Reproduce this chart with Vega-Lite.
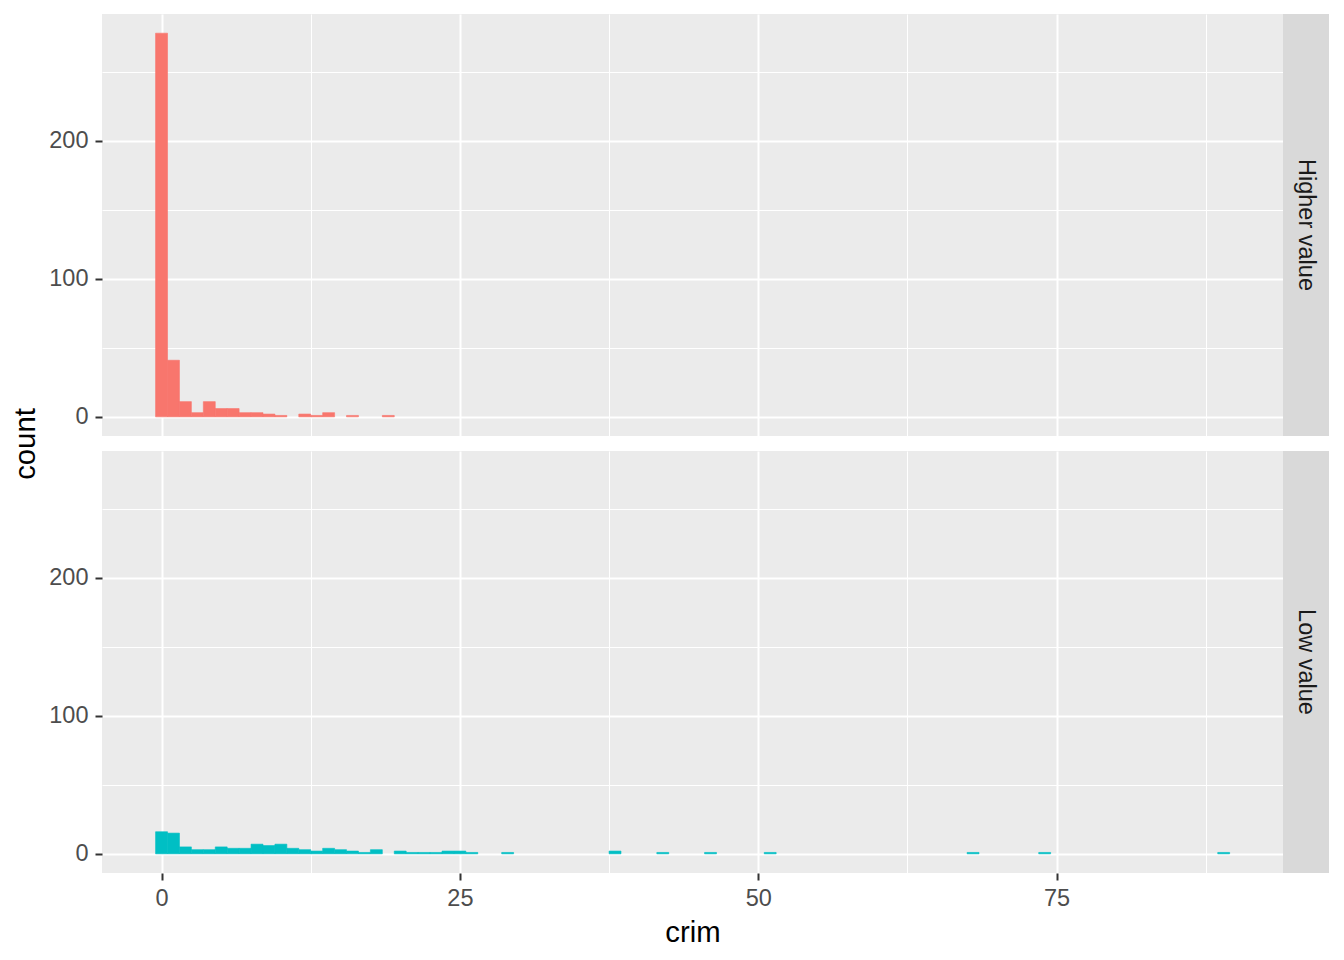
{
  "$schema": "https://vega.github.io/schema/vega-lite/v6.json",
  "background": "white",
  "padding": {"left": 11, "top": 14, "right": 12, "bottom": 10},
  "datasets": {
    "hist": [
      {"value": "Higher value", "bin_start": -0.5, "bin_end": 0.5, "count": 278},
      {"value": "Higher value", "bin_start": 0.5, "bin_end": 1.5, "count": 41},
      {"value": "Higher value", "bin_start": 1.5, "bin_end": 2.5, "count": 11},
      {"value": "Higher value", "bin_start": 2.5, "bin_end": 3.5, "count": 3},
      {"value": "Higher value", "bin_start": 3.5, "bin_end": 4.5, "count": 11},
      {"value": "Higher value", "bin_start": 4.5, "bin_end": 5.5, "count": 6},
      {"value": "Higher value", "bin_start": 5.5, "bin_end": 6.5, "count": 6},
      {"value": "Higher value", "bin_start": 6.5, "bin_end": 7.5, "count": 3},
      {"value": "Higher value", "bin_start": 7.5, "bin_end": 8.5, "count": 3},
      {"value": "Higher value", "bin_start": 8.5, "bin_end": 9.5, "count": 2},
      {"value": "Higher value", "bin_start": 9.5, "bin_end": 10.5, "count": 1},
      {"value": "Higher value", "bin_start": 11.5, "bin_end": 12.5, "count": 2},
      {"value": "Higher value", "bin_start": 12.5, "bin_end": 13.5, "count": 1},
      {"value": "Higher value", "bin_start": 13.5, "bin_end": 14.5, "count": 3},
      {"value": "Higher value", "bin_start": 15.5, "bin_end": 16.5, "count": 1},
      {"value": "Higher value", "bin_start": 18.5, "bin_end": 19.5, "count": 1},
      {"value": "Low value", "bin_start": -0.5, "bin_end": 0.5, "count": 16},
      {"value": "Low value", "bin_start": 0.5, "bin_end": 1.5, "count": 15},
      {"value": "Low value", "bin_start": 1.5, "bin_end": 2.5, "count": 5},
      {"value": "Low value", "bin_start": 2.5, "bin_end": 3.5, "count": 3},
      {"value": "Low value", "bin_start": 3.5, "bin_end": 4.5, "count": 3},
      {"value": "Low value", "bin_start": 4.5, "bin_end": 5.5, "count": 5},
      {"value": "Low value", "bin_start": 5.5, "bin_end": 6.5, "count": 4},
      {"value": "Low value", "bin_start": 6.5, "bin_end": 7.5, "count": 4},
      {"value": "Low value", "bin_start": 7.5, "bin_end": 8.5, "count": 7},
      {"value": "Low value", "bin_start": 8.5, "bin_end": 9.5, "count": 6},
      {"value": "Low value", "bin_start": 9.5, "bin_end": 10.5, "count": 7},
      {"value": "Low value", "bin_start": 10.5, "bin_end": 11.5, "count": 4},
      {"value": "Low value", "bin_start": 11.5, "bin_end": 12.5, "count": 3},
      {"value": "Low value", "bin_start": 12.5, "bin_end": 13.5, "count": 2},
      {"value": "Low value", "bin_start": 13.5, "bin_end": 14.5, "count": 4},
      {"value": "Low value", "bin_start": 14.5, "bin_end": 15.5, "count": 3},
      {"value": "Low value", "bin_start": 15.5, "bin_end": 16.5, "count": 2},
      {"value": "Low value", "bin_start": 16.5, "bin_end": 17.5, "count": 1},
      {"value": "Low value", "bin_start": 17.5, "bin_end": 18.5, "count": 3},
      {"value": "Low value", "bin_start": 19.5, "bin_end": 20.5, "count": 2},
      {"value": "Low value", "bin_start": 20.5, "bin_end": 21.5, "count": 1},
      {"value": "Low value", "bin_start": 21.5, "bin_end": 22.5, "count": 1},
      {"value": "Low value", "bin_start": 22.5, "bin_end": 23.5, "count": 1},
      {"value": "Low value", "bin_start": 23.5, "bin_end": 24.5, "count": 2},
      {"value": "Low value", "bin_start": 24.5, "bin_end": 25.5, "count": 2},
      {"value": "Low value", "bin_start": 25.5, "bin_end": 26.5, "count": 1},
      {"value": "Low value", "bin_start": 28.5, "bin_end": 29.5, "count": 1},
      {"value": "Low value", "bin_start": 37.5, "bin_end": 38.5, "count": 2},
      {"value": "Low value", "bin_start": 41.5, "bin_end": 42.5, "count": 1},
      {"value": "Low value", "bin_start": 45.5, "bin_end": 46.5, "count": 1},
      {"value": "Low value", "bin_start": 50.5, "bin_end": 51.5, "count": 1},
      {"value": "Low value", "bin_start": 67.5, "bin_end": 68.5, "count": 1},
      {"value": "Low value", "bin_start": 73.5, "bin_end": 74.5, "count": 1},
      {"value": "Low value", "bin_start": 88.5, "bin_end": 89.5, "count": 1}
    ],
    "strips": [
      {"value": "Higher value"},
      {"value": "Low value"}
    ]
  },
  "config": {
    "font": "Liberation Sans",
    "view": {"stroke": null},
    "axis": {
      "domain": false,
      "gridColor": "white",
      "tickColor": "#333333",
      "tickWidth": 2,
      "tickSize": 7,
      "labelColor": "#4D4D4D",
      "labelFontSize": 23.5,
      "labelFont": "Liberation Sans",
      "titleFont": "Liberation Sans",
      "titleFontSize": 29.3,
      "titleFontWeight": "normal",
      "titleColor": "black"
    }
  },
  "columns": 2,
  "spacing": {"row": 15, "column": 0},
  "bounds": "flush",
  "concat": [
    {
      "width": 1181,
      "height": 422,
      "view": {"fill": "#EBEBEB", "stroke": null},
      "data": {"name": "hist"},
      "transform": [{"filter": "datum.value === 'Higher value'"}],
      "mark": {"type": "bar", "cornerRadius": 0, "strokeWidth": 0.6},
      "encoding": {
        "x": {
          "field": "bin_start", "type": "quantitative",
          "scale": {"domain": [-4.99, 93.97], "nice": false, "zero": false},
          "axis": {
            "values": [0, 12.5, 25, 37.5, 50, 62.5, 75, 87.5],
            "labels": false, "ticks": false, "title": null,
            "gridWidth": {"condition": {"test": "datum.value % 25 !== 0", "value": 1}, "value": 2}
          }
        },
        "x2": {"field": "bin_end"},
        "y": {
          "field": "count", "type": "quantitative",
          "scale": {"domain": [-13.9, 291.9], "nice": false, "zero": false},
          "axis": {
            "values": [0, 50, 100, 150, 200, 250],
            "title": null,
            "labelPadding": 7,
            "labelExpr": "datum.value % 100 === 0 ? datum.label : ''",
            "tickOpacity": {"condition": {"test": "datum.value % 100 !== 0", "value": 0}, "value": 1},
            "gridWidth": {"condition": {"test": "datum.value % 100 !== 0", "value": 1}, "value": 2}
          }
        },
        "y2": {"datum": 0},
        "color": {
          "field": "value", "type": "nominal",
          "scale": {"domain": ["Higher value", "Low value"], "range": ["#F8766D", "#00BFC4"]},
          "legend": null
        },
        "stroke": {
          "field": "value", "type": "nominal",
          "scale": {"domain": ["Higher value", "Low value"], "range": ["#F8766D", "#00BFC4"]},
          "legend": null
        }
      }
    },
    {
      "width": 46,
      "height": 422,
      "view": {"fill": "#D9D9D9", "stroke": null},
      "data": {"name": "strips"},
      "transform": [{"filter": "datum.value === 'Higher value'"}],
      "mark": {"type": "text", "angle": 90, "fontSize": 23.5, "color": "#1A1A1A", "font": "Liberation Sans", "baseline": "middle", "align": "center"},
      "encoding": {"text": {"field": "value", "type": "nominal"}}
    },
    {
      "width": 1181,
      "height": 422,
      "view": {"fill": "#EBEBEB", "stroke": null},
      "data": {"name": "hist"},
      "transform": [{"filter": "datum.value === 'Low value'"}],
      "mark": {"type": "bar", "cornerRadius": 0, "strokeWidth": 0.6},
      "encoding": {
        "x": {
          "field": "bin_start", "type": "quantitative",
          "scale": {"domain": [-4.99, 93.97], "nice": false, "zero": false},
          "axis": {
            "values": [0, 12.5, 25, 37.5, 50, 62.5, 75, 87.5],
            "title": "crim",
            "labelPadding": 6,
            "titlePadding": 9,
            "labelExpr": "datum.value % 25 === 0 ? datum.label : ''",
            "tickOpacity": {"condition": {"test": "datum.value % 25 !== 0", "value": 0}, "value": 1},
            "gridWidth": {"condition": {"test": "datum.value % 25 !== 0", "value": 1}, "value": 2}
          }
        },
        "x2": {"field": "bin_end"},
        "y": {
          "field": "count", "type": "quantitative",
          "scale": {"domain": [-13.9, 291.9], "nice": false, "zero": false},
          "axis": {
            "values": [0, 50, 100, 150, 200, 250],
            "title": "count",
            "titleX": -68,
            "titleY": -7.5,
            "titleAngle": -90,
            "titleAlign": "center",
            "titleBaseline": "alphabetic",
            "labelPadding": 7,
            "labelExpr": "datum.value % 100 === 0 ? datum.label : ''",
            "tickOpacity": {"condition": {"test": "datum.value % 100 !== 0", "value": 0}, "value": 1},
            "gridWidth": {"condition": {"test": "datum.value % 100 !== 0", "value": 1}, "value": 2}
          }
        },
        "y2": {"datum": 0},
        "color": {
          "field": "value", "type": "nominal",
          "scale": {"domain": ["Higher value", "Low value"], "range": ["#F8766D", "#00BFC4"]},
          "legend": null
        },
        "stroke": {
          "field": "value", "type": "nominal",
          "scale": {"domain": ["Higher value", "Low value"], "range": ["#F8766D", "#00BFC4"]},
          "legend": null
        }
      }
    },
    {
      "width": 46,
      "height": 422,
      "view": {"fill": "#D9D9D9", "stroke": null},
      "data": {"name": "strips"},
      "transform": [{"filter": "datum.value === 'Low value'"}],
      "mark": {"type": "text", "angle": 90, "fontSize": 23.5, "color": "#1A1A1A", "font": "Liberation Sans", "baseline": "middle", "align": "center"},
      "encoding": {"text": {"field": "value", "type": "nominal"}}
    }
  ]
}
